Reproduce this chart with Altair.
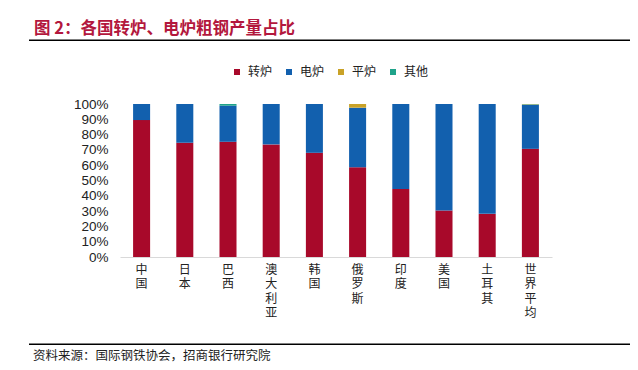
import altair as alt
import pandas as pd

categories = ["中国", "日本", "巴西", "澳大利亚", "韩国", "俄罗斯", "印度", "美国", "土耳其", "世界平均"]
series = ["转炉", "电炉", "平炉", "其他"]
bof = [89.5, 74.7, 75.3, 73.6, 68.1, 58.7, 44.5, 30.4, 28.2, 70.7]
eaf = [10.5, 25.3, 23.6, 26.4, 31.9, 38.9, 55.5, 69.6, 71.8, 28.8]
ohf = [0.0, 0.0, 0.0, 0.0, 0.0, 2.4, 0.0, 0.0, 0.0, 0.3]
other = [0.0, 0.0, 1.1, 0.0, 0.0, 0.0, 0.0, 0.0, 0.0, 0.2]
colors = ["#A8092A", "#1260AE", "#C9A227", "#1FA38A"]

title_text = "图 2：各国转炉、电炉粗钢产量占比"
source_text = "资料来源：国际钢铁协会，招商银行研究院"

rows = []
for s_i, (name, vals) in enumerate(zip(series, [bof, eaf, ohf, other])):
    for c, v in zip(categories, vals):
        rows.append({"国家": c, "类型": name, "占比": v, "序": s_i})
df = pd.DataFrame(rows)

CJK = "Noto Sans CJK SC"

bars = alt.Chart(df).mark_bar().encode(
    x=alt.X("国家:N", sort=categories,
            scale=alt.Scale(paddingInner=0.606),
            axis=alt.Axis(title=None, labelAngle=0, labelExpr="split(datum.label, '')",
                          labelBaseline="top", labelLineHeight=14.5, labelFontSize=12,
                          labelFont=CJK, labelColor="#222", labelPadding=7,
                          ticks=False, domainColor="#d9d9d9", domainWidth=1)),
    y=alt.Y("占比:Q", stack="normalize",
            scale=alt.Scale(domain=[0, 1]),
            axis=alt.Axis(title=None, format=".0%", values=[i / 10 for i in range(11)],
                          ticks=False, domain=False, grid=False, labelFont="Liberation Sans",
                          labelFontSize=13.5, labelColor="#222", labelPadding=12)),
    color=alt.Color("类型:N", sort=series,
                    scale=alt.Scale(domain=series, range=colors),
                    legend=alt.Legend(title=None, orient="none", legendX=111, legendY=-38,
                                      direction="horizontal", symbolType="square",
                                      symbolSize=36, symbolStrokeWidth=0,
                                      labelFont=CJK, labelFontSize=12, labelColor="#222",
                                      labelOffset=5, columnPadding=10, padding=0)),
    order=alt.Order("序:Q", sort="ascending"),
)

title = alt.Chart(pd.DataFrame({"t": [title_text]})).mark_text(
    align="left", baseline="middle", fontSize=16.5, fontWeight="bold",
    color="#B3173D", font=CJK
).encode(x=alt.value(-86), y=alt.value(-75), text="t:N")

title_line = alt.Chart(pd.DataFrame({"a": [0]})).mark_rule(
    color="black", strokeWidth=1.5
).encode(x=alt.value(-91), x2=alt.value(510), y=alt.value(-63.7))

bottom_line = alt.Chart(pd.DataFrame({"a": [0]})).mark_rule(
    color="black", strokeWidth=1.5
).encode(x=alt.value(-91), x2=alt.value(510), y=alt.value(240.3))

source = alt.Chart(pd.DataFrame({"t": [source_text]})).mark_text(
    align="left", baseline="middle", fontSize=12.5, color="#222", font=CJK
).encode(x=alt.value(-87), y=alt.value(251.5), text="t:N")

chart = alt.layer(bars, title, title_line, bottom_line, source).properties(
    width=432, height=153,
    autosize=alt.AutoSizeParams(type="none"),
    padding={"left": 112, "top": 96, "right": 78, "bottom": 105},
).configure_view(stroke=None)

chart.save("out.html", embed_options={"renderer": "svg", "actions": False})
